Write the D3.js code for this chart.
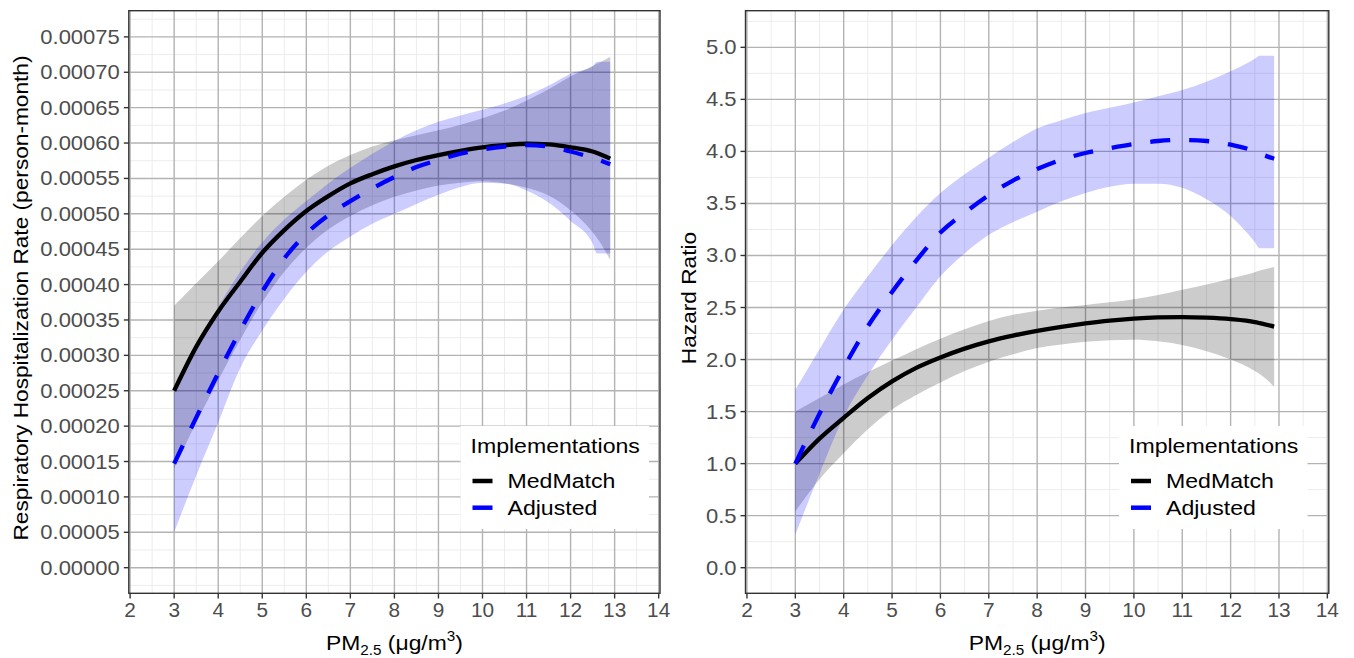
<!DOCTYPE html>
<html>
<head>
<meta charset="utf-8">
<script src="https://cdn.jsdelivr.net/npm/d3@7"></script>
<style>
  body { margin: 0; background: #fff; }
  svg { display: block; font-family: "Liberation Sans", Arial, Helvetica, sans-serif; }
</style>
</head>
<body>
<svg id="chart" width="1354" height="658"></svg>
<script>
// ===== DATA =====
const pm = [3, 3.5, 4, 4.5, 5, 5.5, 6, 6.5, 7, 7.5, 8, 8.5, 9, 9.5, 10, 10.5, 11, 11.5, 12, 12.5, 12.6, 12.9];

// left: respiratory hospitalization rate
const rateMed   = [0.00025, 0.000312, 0.000362, 0.000404, 0.000445, 0.000477, 0.000504, 0.000525, 0.000543, 0.000556, 0.000567, 0.000576, 0.000583, 0.000589, 0.000594, 0.000597, 0.000599, 0.000598, 0.000594, 0.000588, 0.000586, 0.000578];
const rateMedLo = [0.00014, 0.000205, 0.000265, 0.000322, 0.000375, 0.000418, 0.000452, 0.000478, 0.000497, 0.000512, 0.000524, 0.000533, 0.00054, 0.000544, 0.000546, 0.000543, 0.000537, 0.000526, 0.000505, 0.000474, 0.000466, 0.000435];
const rateMedHi = [0.00037, 0.000402, 0.000433, 0.000466, 0.000497, 0.000524, 0.000548, 0.000568, 0.000583, 0.000595, 0.000604, 0.000611, 0.000618, 0.000626, 0.000635, 0.000646, 0.00066, 0.000676, 0.000694, 0.000709, 0.000712, 0.000722];
const rateAdj   = [0.000147, 0.000212, 0.000275, 0.000335, 0.00039, 0.000437, 0.000472, 0.000498, 0.000518, 0.000536, 0.000552, 0.000566, 0.000576, 0.000585, 0.000591, 0.000595, 0.000597, 0.000595, 0.000588, 0.000579, 0.000577, 0.00057];
const rateAdjLo = [0.00005, 0.00013, 0.000205, 0.000282, 0.000335, 0.00038, 0.000418, 0.000447, 0.000468, 0.000486, 0.0005, 0.000514, 0.000527, 0.000538, 0.000544, 0.000543, 0.000533, 0.000516, 0.00049, 0.000458, 0.000444, 0.000444];
const rateAdjHi = [0.00025, 0.00031, 0.000368, 0.000418, 0.00046, 0.000492, 0.000518, 0.000543, 0.000565, 0.000585, 0.000603, 0.000618, 0.00063, 0.000639, 0.000647, 0.000656, 0.000667, 0.000681, 0.000698, 0.000708, 0.000715, 0.000715];

// right: hazard ratio
const hrMed   = [1.0, 1.24, 1.44, 1.63, 1.79, 1.92, 2.02, 2.105, 2.175, 2.23, 2.276, 2.315, 2.348, 2.375, 2.394, 2.405, 2.408, 2.402, 2.388, 2.36, 2.35, 2.317];
const hrMedLo = [0.54, 0.85, 1.1, 1.33, 1.52, 1.66, 1.78, 1.89, 1.98, 2.05, 2.11, 2.145, 2.17, 2.185, 2.19, 2.175, 2.14, 2.08, 2.0, 1.89, 1.86, 1.74];
const hrMedHi = [1.5, 1.63, 1.76, 1.88, 1.99, 2.1, 2.2, 2.29, 2.37, 2.43, 2.47, 2.5, 2.525, 2.55, 2.58, 2.62, 2.67, 2.72, 2.78, 2.84, 2.855, 2.89];
const hrAdj   = [1.0, 1.48, 1.92, 2.32, 2.65, 2.95, 3.22, 3.41, 3.58, 3.72, 3.83, 3.92, 3.985, 4.03, 4.07, 4.1, 4.11, 4.1, 4.065, 4.0, 3.98, 3.93];
const hrAdjLo = [0.32, 0.9, 1.45, 1.85, 2.19, 2.5, 2.8, 3.02, 3.2, 3.32, 3.42, 3.52, 3.6, 3.66, 3.69, 3.69, 3.65, 3.54, 3.38, 3.13, 3.07, 3.07];
const hrAdjHi = [1.71, 2.1, 2.48, 2.8, 3.1, 3.37, 3.6, 3.78, 3.94, 4.09, 4.22, 4.3, 4.37, 4.42, 4.47, 4.53, 4.59, 4.67, 4.77, 4.89, 4.92, 4.92];

// ticks
const xTicks = [2, 3, 4, 5, 6, 7, 8, 9, 10, 11, 12, 13, 14];
const rateTicks = [0, 0.00005, 0.0001, 0.00015, 0.0002, 0.00025, 0.0003, 0.00035, 0.0004, 0.00045, 0.0005, 0.00055, 0.0006, 0.00065, 0.0007, 0.00075];
const hrTicks = [0, 0.5, 1, 1.5, 2, 2.5, 3, 3.5, 4, 4.5, 5];

const legendTitle = "Implementations";
const groups = ["MedMatch", "Adjusted"];

const svg = d3.select("#chart");

// the reference text is a bit wider than Liberation Sans, so widen it in place
function stretch(sel, k) {
  sel.each(function() {
    const t = d3.select(this);
    const x = +t.attr("x") || 0, y = +t.attr("y") || 0;
    t.attr("x", null).attr("y", null)
      .attr("transform", `translate(${x},${y}) scale(${k},1)`);
  });
}

// ===== PANEL =====
function drawPanel(p) {
  const x = d3.scaleLinear().domain([1.97, 14.03]).range([p.left, p.right]);
  const y = d3.scaleLinear().domain(p.yDomain).range([593.3, 10.7]);
  const g = svg.append("g");

  const step = p.yTicks[1] - p.yTicks[0];
  const xMinor = xTicks.slice(0, -1).map(d => d + 0.5);
  const yMinor = d3.range(-1, p.yTicks.length).map(i => p.yTicks[0] + (i + 0.5) * step)
    .filter(v => y(v) > 11 && y(v) < 593);

  // minor grid
  g.selectAll(".xminor").data(xMinor).enter().append("line")
    .attr("x1", d => x(d)).attr("x2", d => x(d)).attr("y1", 10.7).attr("y2", 593.3)
    .attr("stroke", "#ececec").attr("stroke-width", 1);
  g.selectAll(".yminor").data(yMinor).enter().append("line")
    .attr("x1", p.left).attr("x2", p.right).attr("y1", d => y(d)).attr("y2", d => y(d))
    .attr("stroke", "#ececec").attr("stroke-width", 1);

  // major grid
  g.selectAll(".xmajor").data(xTicks).enter().append("line")
    .attr("x1", d => x(d)).attr("x2", d => x(d)).attr("y1", 10.7).attr("y2", 593.3)
    .attr("stroke", "#b3b3b3").attr("stroke-width", 1.4);
  g.selectAll(".ymajor").data(p.yTicks).enter().append("line")
    .attr("x1", p.left).attr("x2", p.right).attr("y1", d => y(d)).attr("y2", d => y(d))
    .attr("stroke", "#b3b3b3").attr("stroke-width", 1.4);

  const area = d3.area().x(d => x(d.x)).y0(d => y(d.lo)).y1(d => y(d.hi)).curve(d3.curveMonotoneX);
  const line = d3.line().x(d => x(d.x)).y(d => y(d.y)).curve(d3.curveMonotoneX);

  // ribbons
  p.series.forEach(s => {
    const rows = pm.map((v, i) => ({ x: v, lo: s.lo[i], hi: s.hi[i] }));
    g.append("path").attr("d", area(rows)).attr("fill", s.fill).attr("fill-opacity", 0.2);
  });

  // lines
  p.series.forEach(s => {
    const rows = pm.map((v, i) => ({ x: v, y: s.mid[i] }));
    g.append("path").attr("d", line(rows))
      .attr("fill", "none")
      .attr("stroke", s.color)
      .attr("stroke-width", 4.3)
      .attr("stroke-dasharray", s.dash);
  });

  // border
  g.append("rect")
    .attr("x", p.left).attr("y", 10.7)
    .attr("width", p.right - p.left).attr("height", 593.3 - 10.7)
    .attr("fill", "none").attr("stroke", "#333").attr("stroke-width", 1.4);

  // x axis ticks + labels
  g.selectAll(".xt").data(xTicks).enter().append("line")
    .attr("x1", d => x(d)).attr("x2", d => x(d)).attr("y1", 593.3).attr("y2", 598.5)
    .attr("stroke", "#333").attr("stroke-width", 1.4);
  g.selectAll(".xl").data(xTicks).enter().append("text")
    .attr("x", d => x(d)).attr("y", 617)
    .attr("text-anchor", "middle").attr("font-size", 20).attr("fill", "#4d4d4d")
    .text(d => d)
    .call(stretch, 1.04);

  // y axis ticks + labels
  g.selectAll(".yt").data(p.yTicks).enter().append("line")
    .attr("x1", p.left - 5).attr("x2", p.left).attr("y1", d => y(d)).attr("y2", d => y(d))
    .attr("stroke", "#333").attr("stroke-width", 1.4);
  g.selectAll(".yl").data(p.yTicks).enter().append("text")
    .attr("x", p.left - 9).attr("y", d => y(d) + 7)
    .attr("text-anchor", "end").attr("font-size", 20).attr("fill", "#4d4d4d")
    .text(d => d3.format(p.yFormat)(d))
    .call(stretch, 1.1);

  // axis titles
  const xt = g.append("text")
    .attr("x", (p.left + p.right) / 2).attr("y", 650)
    .attr("text-anchor", "middle").attr("font-size", 21).attr("fill", "#000");
  xt.append("tspan").text("PM");
  xt.append("tspan").attr("font-size", 14).attr("dy", 5).text("2.5");
  xt.append("tspan").attr("dy", -5).text(" (μg/m");
  xt.append("tspan").attr("font-size", 14).attr("dy", -9).text("3");
  xt.append("tspan").attr("dy", 9).text(")");
  xt.call(stretch, 1.09);

  g.append("text")
    .attr("transform", `translate(${p.yTitleX},${(10.7 + 593.3) / 2 - 4}) rotate(-90) scale(1.08,1)`)
    .attr("text-anchor", "middle").attr("font-size", 21).attr("fill", "#000")
    .text(p.yTitle);

  // legend
  const lg = g.append("g").attr("transform", `translate(${p.legendX},426)`);
  lg.append("rect").attr("width", 188.5).attr("height", 103).attr("fill", "#fff");
  lg.append("text").attr("x", 10).attr("y", 27).attr("font-size", 21).text(legendTitle)
    .call(stretch, 1.1);
  p.series.forEach((s, i) => {
    lg.append("line")
      .attr("x1", 12).attr("x2", 32).attr("y1", 55 + i * 26.7).attr("y2", 55 + i * 26.7)
      .attr("stroke", s.color).attr("stroke-width", 4.5);
    lg.append("text").attr("x", 47).attr("y", 62.3 + i * 26.7).attr("font-size", 21).text(groups[i])
      .call(stretch, 1.1);
  });
}

drawPanel({
  left: 128.8, right: 660,
  yDomain: [-0.0000362, 0.000787],
  yTicks: rateTicks, yFormat: ".5f",
  yTitle: "Respiratory Hospitalization Rate (person-month)", yTitleX: 28,
  legendX: 460.5,
  series: [
    { mid: rateMed, lo: rateMedLo, hi: rateMedHi, color: "#000", fill: "#000", dash: null },
    { mid: rateAdj, lo: rateAdjLo, hi: rateAdjHi, color: "#0000ff", fill: "#0000ff", dash: "20,19" }
  ]
});

drawPanel({
  left: 745.5, right: 1328.8,
  yDomain: [-0.246, 5.352],
  yTicks: hrTicks, yFormat: ".1f",
  yTitle: "Hazard Ratio", yTitleX: 696,
  legendX: 1119,
  series: [
    { mid: hrMed, lo: hrMedLo, hi: hrMedHi, color: "#000", fill: "#000", dash: null },
    { mid: hrAdj, lo: hrAdjLo, hi: hrAdjHi, color: "#0000ff", fill: "#0000ff", dash: "20,19" }
  ]
});
</script>
</body>
</html>
